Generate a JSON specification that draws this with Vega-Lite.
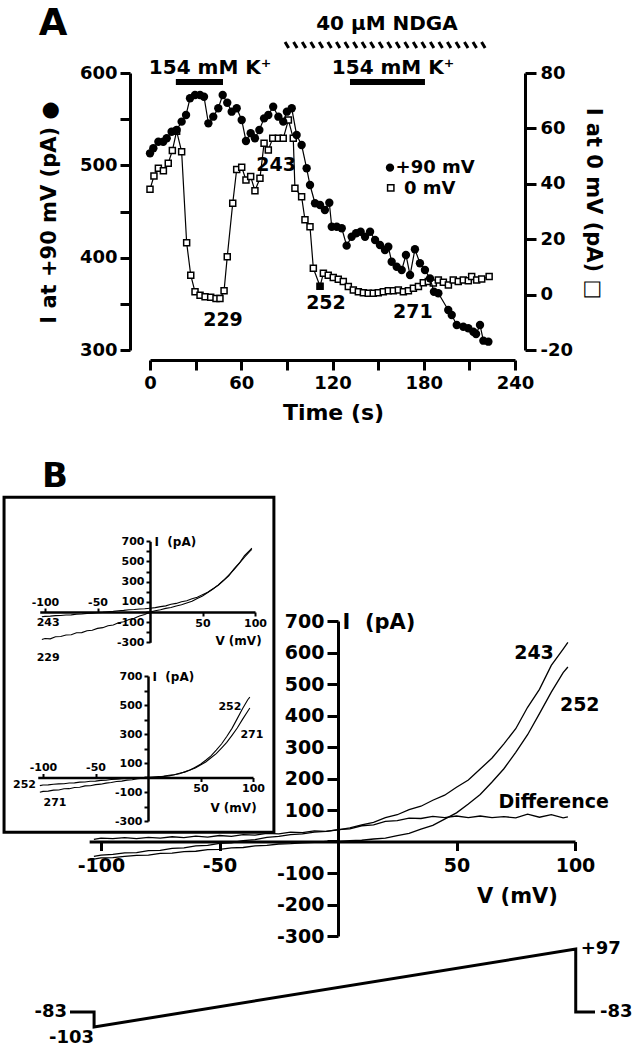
{
"$schema":"https://vega.github.io/schema/vega-lite/v6.json",
"width":642,"height":1049,"autosize":"none","padding":0,"background":"white",
"config":{"view":{"stroke":null},
 "axis":{"grid":false,"labelFont":"DejaVu Sans","titleFont":"DejaVu Sans","labelFontWeight":"bold","titleFontWeight":"bold","labelColor":"black","titleColor":"black","domainColor":"black","tickColor":"black","labelFlush":false,"labelOverlap":false,"labelBound":false},
 "text":{"font":"DejaVu Sans","fontWeight":"bold","color":"black"}},
"datasets":{
 "circ":[{"t":0,"i":513},{"t":2.2,"i":518.5},{"t":5.5,"i":525.6},{"t":8.7,"i":525.6},{"t":11,"i":529.3},{"t":14.2,"i":536.4},{"t":17.5,"i":538.3},{"t":20.8,"i":547.3},{"t":23.7,"i":554.5},{"t":26.3,"i":572.6},{"t":29.6,"i":576.2},{"t":32.9,"i":576.2},{"t":35.5,"i":574.3},{"t":38.4,"i":545.5},{"t":41.6,"i":552.7},{"t":44.9,"i":561.8},{"t":47.8,"i":576.2},{"t":50.8,"i":567.8},{"t":53.7,"i":558.1},{"t":57,"i":561.8},{"t":60.3,"i":549.1},{"t":63.1,"i":526.4},{"t":66.2,"i":534.7},{"t":69,"i":529.3},{"t":71.9,"i":538.3},{"t":75,"i":550.9},{"t":77.8,"i":554.5},{"t":81,"i":563.5},{"t":84.4,"i":552.7},{"t":87.6,"i":547.3},{"t":90,"i":558.1},{"t":93.2,"i":561.8},{"t":96.4,"i":532.9},{"t":99.7,"i":522},{"t":103,"i":496.8},{"t":105.2,"i":478.7},{"t":108.5,"i":458.9},{"t":111.8,"i":457},{"t":115,"i":451.6},{"t":117.9,"i":459.5},{"t":119.5,"i":433.5},{"t":122.8,"i":433.5},{"t":126.1,"i":431.8},{"t":129.3,"i":413},{"t":132.6,"i":422.7},{"t":135.5,"i":426.4},{"t":138.5,"i":428.1},{"t":141.4,"i":422.7},{"t":144.7,"i":428.1},{"t":148,"i":419.1},{"t":151.2,"i":413.7},{"t":154.5,"i":408.3},{"t":156.7,"i":411.9},{"t":158.9,"i":395.6},{"t":162.2,"i":390.2},{"t":165.5,"i":386.6},{"t":168.3,"i":402.9},{"t":171,"i":381.2},{"t":174.2,"i":409.1},{"t":177.5,"i":393.9},{"t":180.8,"i":386.6},{"t":184.1,"i":377.6},{"t":186.7,"i":363.1},{"t":189.6,"i":361.4},{"t":196.1,"i":343.3},{"t":198.4,"i":337.9},{"t":201.7,"i":327.1},{"t":206,"i":325.2},{"t":209.3,"i":323.5},{"t":212.6,"i":319.8},{"t":214.4,"i":317.3},{"t":217,"i":327.1},{"t":219.2,"i":310.1},{"t":222.5,"i":309}],
 "sq":[{"t":0,"i":38,"f":0},{"t":2.6,"i":42.8,"f":0},{"t":5.5,"i":45.6,"f":0},{"t":8.8,"i":44.7,"f":0},{"t":12,"i":47.4,"f":0},{"t":14.7,"i":52,"f":0},{"t":17.5,"i":59,"f":0},{"t":20.8,"i":51.6,"f":0},{"t":24.1,"i":18.7,"f":0},{"t":26.8,"i":7,"f":0},{"t":29.6,"i":1,"f":0},{"t":32.9,"i":-0.2,"f":0},{"t":36.2,"i":-0.8,"f":0},{"t":39.9,"i":-1,"f":0},{"t":43.4,"i":-1.4,"f":0},{"t":46,"i":-1.4,"f":0},{"t":48.7,"i":1.4,"f":0},{"t":50.8,"i":13.7,"f":0},{"t":54.4,"i":33,"f":0},{"t":57,"i":45.2,"f":0},{"t":60.3,"i":46,"f":0},{"t":63.1,"i":41.4,"f":0},{"t":66.2,"i":42.6,"f":0},{"t":69,"i":37.5,"f":0},{"t":72.3,"i":42,"f":0},{"t":75,"i":54.6,"f":0},{"t":77.8,"i":52.2,"f":0},{"t":80.7,"i":56.4,"f":0},{"t":84.4,"i":56.4,"f":0},{"t":87.6,"i":56.4,"f":0},{"t":91,"i":63,"f":0},{"t":94.2,"i":56.4,"f":0},{"t":95.3,"i":38.4,"f":0},{"t":99.7,"i":35.3,"f":0},{"t":101.9,"i":27,"f":0},{"t":105.2,"i":24.5,"f":0},{"t":107.4,"i":9.5,"f":0},{"t":111.8,"i":3,"f":1},{"t":114,"i":7.7,"f":0},{"t":117.2,"i":7,"f":0},{"t":120.5,"i":6.2,"f":0},{"t":123.8,"i":5.5,"f":0},{"t":127.1,"i":4.7,"f":0},{"t":130.4,"i":2.9,"f":0},{"t":133.7,"i":1.7,"f":0},{"t":137,"i":1,"f":0},{"t":140.3,"i":0.7,"f":0},{"t":143.5,"i":0.5,"f":0},{"t":146.8,"i":0.5,"f":0},{"t":150.1,"i":0.7,"f":0},{"t":153.4,"i":1,"f":0},{"t":156.7,"i":1.4,"f":0},{"t":160,"i":1.4,"f":0},{"t":163.3,"i":1.7,"f":0},{"t":166.6,"i":1,"f":0},{"t":169.9,"i":1.4,"f":0},{"t":173.2,"i":2.3,"f":0},{"t":176.5,"i":2.9,"f":0},{"t":179.7,"i":4.3,"f":0},{"t":183,"i":4.7,"f":0},{"t":186.3,"i":4.2,"f":0},{"t":189.6,"i":5.3,"f":0},{"t":192.9,"i":4.5,"f":0},{"t":196.2,"i":3.5,"f":0},{"t":199.4,"i":5.3,"f":0},{"t":202.7,"i":4.7,"f":0},{"t":206,"i":5.3,"f":0},{"t":209.3,"i":5,"f":0},{"t":211.5,"i":6.5,"f":0},{"t":214.8,"i":5.3,"f":0},{"t":218.1,"i":5.6,"f":0},{"t":223,"i":6.5,"f":0}],
 "iv":[{"V":-103,"a":-47,"b":-56,"d":7,"c":-272,"e":-102},{"V":-100,"a":-43,"b":-52,"d":11,"c":-262,"e":-96},{"V":-95,"a":-41,"b":-51,"d":9,"c":-266,"e":-94},{"V":-90,"a":-36,"b":-47,"d":12,"c":-245,"e":-87},{"V":-85,"a":-35,"b":-44,"d":9,"c":-243,"e":-86},{"V":-80,"a":-29,"b":-43,"d":13,"c":-228,"e":-78},{"V":-75,"a":-28,"b":-38,"d":11,"c":-226,"e":-77},{"V":-70,"a":-22,"b":-37,"d":15,"c":-206,"e":-69},{"V":-65,"a":-20,"b":-32,"d":12,"c":-204,"e":-67},{"V":-60,"a":-14,"b":-31,"d":17,"c":-186,"e":-58},{"V":-55,"a":-12,"b":-26,"d":14,"c":-181,"e":-57},{"V":-50,"a":-6,"b":-25,"d":19,"c":-162,"e":-49},{"V":-45,"a":-4,"b":-20,"d":16,"c":-155,"e":-46},{"V":-40,"a":3,"b":-19,"d":22,"c":-136,"e":-39},{"V":-35,"a":6,"b":-14,"d":20,"c":-128,"e":-35},{"V":-30,"a":13,"b":-12,"d":26,"c":-106,"e":-28},{"V":-25,"a":16,"b":-8,"d":24,"c":-97,"e":-25},{"V":-20,"a":22,"b":-7,"d":30,"c":-75,"e":-18},{"V":-15,"a":24,"b":-4,"d":28,"c":-62,"e":-15},{"V":-10,"a":30,"b":-3,"d":34,"c":-40,"e":-8},{"V":-5,"a":32,"b":0,"d":32,"c":-24,"e":-5},{"V":0,"a":37,"b":0,"d":38,"c":-1,"e":1},{"V":5,"a":43,"b":3,"d":40,"c":13,"e":2},{"V":10,"a":53,"b":4,"d":50,"c":23,"e":7},{"V":15,"a":61,"b":8,"d":53,"c":36,"e":9},{"V":20,"a":76,"b":11,"d":64,"c":45,"e":15},{"V":25,"a":85,"b":19,"d":66,"c":59,"e":19},{"V":30,"a":101,"b":26,"d":74,"c":71,"e":29},{"V":35,"a":112,"b":39,"d":73,"c":89,"e":37},{"V":40,"a":131,"b":51,"d":80,"c":107,"e":51},{"V":45,"a":147,"b":71,"d":76,"c":133,"e":65},{"V":50,"a":172,"b":91,"d":81,"c":159,"e":86},{"V":55,"a":195,"b":119,"d":76,"c":193,"e":107},{"V":60,"a":230,"b":149,"d":81,"c":227,"e":136},{"V":65,"a":265,"b":189,"d":76,"c":269,"e":165},{"V":70,"a":310,"b":231,"d":79,"c":314,"e":203},{"V":75,"a":358,"b":283,"d":75,"c":366,"e":242},{"V":80,"a":426,"b":339,"d":87,"c":419,"e":291},{"V":85,"a":483,"b":406,"d":77,"c":481,"e":341},{"V":90,"a":559,"b":474,"d":85,"c":544,"e":401},{"V":95,"a":611,"b":536,"d":75,"c":601,"e":457},{"V":97,"a":632,"b":554,"d":78,"c":620,"e":479}]
},
"resolve":{"scale":{"x":"independent","y":"independent"},"axis":{"x":"independent","y":"independent"}},
"layer":[
  {"data":{"name":"sq"},"mark":{"type":"line","color":"black","strokeWidth":1.2},
   "encoding":{"x":{"field":"t","type":"quantitative","scale":{"domain":[0,240],"range":[150,515],"nice":false,"zero":false},"axis":null},
    "y":{"field":"i","type":"quantitative","scale":{"domain":[-20,80],"range":[350,73],"nice":false,"zero":false},
     "axis":{"orient":"right","offset":-117,"values":[-20,0,20,40,60,80],"labelExpr":"replace(datum.label, '−', '-')","tickSize":11,"tickWidth":3,"domainWidth":3,"labelFontSize":18,"labelPadding":4,"title":"I at 0 mV (pA) □","titleFontSize":21,"titleAngle":90,"titleX":67,"titleY":203,"titleAlign":"center","titleBaseline":"middle"}}}},
  {"data":{"name":"sq"},"mark":{"type":"point","shape":"square","filled":true,"fill":"white","stroke":"black","strokeWidth":1.5,"size":36,"opacity":1},
   "encoding":{"x":{"field":"t","type":"quantitative","scale":{"domain":[0,240],"range":[150,515],"nice":false,"zero":false},"axis":null},
    "y":{"field":"i","type":"quantitative","scale":{"domain":[-20,80],"range":[350,73],"nice":false,"zero":false},"axis":null}}},
  {"data":{"name":"sq"},"transform":[{"filter":"datum.f == 1"}],"mark":{"type":"point","shape":"square","filled":true,"color":"black","size":45,"opacity":1},
   "encoding":{"x":{"field":"t","type":"quantitative","scale":{"domain":[0,240],"range":[150,515],"nice":false,"zero":false},"axis":null},
    "y":{"field":"i","type":"quantitative","scale":{"domain":[-20,80],"range":[350,73],"nice":false,"zero":false},"axis":null}}},
  {"data":{"values":[{"t":158.3,"i":38.5}]},"mark":{"type":"point","shape":"square","filled":true,"fill":"white","stroke":"black","strokeWidth":1.5,"size":40,"opacity":1},
   "encoding":{"x":{"field":"t","type":"quantitative","scale":{"domain":[0,240],"range":[150,515],"nice":false,"zero":false},"axis":null},
    "y":{"field":"i","type":"quantitative","scale":{"domain":[-20,80],"range":[350,73],"nice":false,"zero":false},"axis":null}}},
  {"data":{"values":[{"t":167,"i":38,"s":"0 mV"}]},"mark":{"type":"text","align":"left","baseline":"middle","fontSize":18},
   "encoding":{"x":{"field":"t","type":"quantitative","scale":{"domain":[0,240],"range":[150,515],"nice":false,"zero":false},"axis":null},
    "y":{"field":"i","type":"quantitative","scale":{"domain":[-20,80],"range":[350,73],"nice":false,"zero":false},"axis":null},"text":{"field":"s"}}},
  {"data":{"name":"circ"},"mark":{"type":"line","color":"black","strokeWidth":1.2},
   "encoding":{"x":{"field":"t","type":"quantitative","scale":{"domain":[0,240],"range":[150,515],"nice":false,"zero":false},
     "axis":{"orient":"bottom","offset":-689,"values":[0,30,60,90,120,150,180,210,240],"labelExpr":"datum.value % 60 == 0 ? datum.label : ''","tickSize":10,"tickWidth":3,"domainWidth":3,"labelFontSize":18,"labelPadding":4,"title":"Time (s)","titleFontSize":22,"titleX":333,"titleY":52,"titleAlign":"center","titleBaseline":"middle"}},
    "y":{"field":"i","type":"quantitative","scale":{"domain":[300,600],"range":[350,73],"nice":false,"zero":false},
     "axis":{"orient":"left","offset":-130,"values":[300,350,400,450,500,550,600],"labelExpr":"datum.value % 100 == 0 ? datum.label : ''","tickSize":10,"tickWidth":3,"domainWidth":3,"labelFontSize":18,"labelPadding":3,"title":"I at +90 mV (pA) ●","titleFontSize":21,"titleAngle":-90,"titleX":-81,"titleY":212,"titleAlign":"center","titleBaseline":"middle"}}}},
  {"data":{"name":"circ"},"mark":{"type":"point","shape":"circle","filled":true,"color":"black","size":70,"opacity":1},
   "encoding":{"x":{"field":"t","type":"quantitative","scale":{"domain":[0,240],"range":[150,515],"nice":false,"zero":false},"axis":null},
    "y":{"field":"i","type":"quantitative","scale":{"domain":[300,600],"range":[350,73],"nice":false,"zero":false},"axis":null}}},
  {"data":{"values":[{"t":157.8,"i":497.5}]},"mark":{"type":"point","shape":"circle","filled":true,"color":"black","size":70,"opacity":1},
   "encoding":{"x":{"field":"t","type":"quantitative","scale":{"domain":[0,240],"range":[150,515],"nice":false,"zero":false},"axis":null},
    "y":{"field":"i","type":"quantitative","scale":{"domain":[300,600],"range":[350,73],"nice":false,"zero":false},"axis":null}}},
  {"data":{"values":[{"t1":17,"t2":48,"i":590.3},{"t1":131.5,"t2":180.8,"i":590.3}]},"mark":{"type":"rule","color":"black","strokeWidth":6},
   "encoding":{"x":{"field":"t1","type":"quantitative","scale":{"domain":[0,240],"range":[150,515],"nice":false,"zero":false},"axis":null},"x2":{"field":"t2"},
    "y":{"field":"i","type":"quantitative","scale":{"domain":[300,600],"range":[350,73],"nice":false,"zero":false},"axis":null}}},
  {"data":{"values":[{"t":156.2,"i":630.3}]},"mark":{"type":"point","filled":false,"stroke":"black","strokeWidth":3,"opacity":1,"size":42025,
    "shape":"M-1,-0.03L-0.965,0.03M-0.917,-0.03L-0.882,0.03M-0.833,-0.03L-0.798,0.03M-0.75,-0.03L-0.715,0.03M-0.667,-0.03L-0.632,0.03M-0.583,-0.03L-0.548,0.03M-0.5,-0.03L-0.465,0.03M-0.417,-0.03L-0.382,0.03M-0.333,-0.03L-0.298,0.03M-0.25,-0.03L-0.215,0.03M-0.167,-0.03L-0.132,0.03M-0.083,-0.03L-0.048,0.03M0,-0.03L0.035,0.03M0.083,-0.03L0.118,0.03M0.167,-0.03L0.202,0.03M0.25,-0.03L0.285,0.03M0.333,-0.03L0.368,0.03M0.417,-0.03L0.452,0.03M0.5,-0.03L0.535,0.03M0.583,-0.03L0.618,0.03M0.667,-0.03L0.702,0.03M0.75,-0.03L0.785,0.03M0.833,-0.03L0.868,0.03M0.917,-0.03L0.952,0.03"},
   "encoding":{"x":{"field":"t","type":"quantitative","scale":{"domain":[0,240],"range":[150,515],"nice":false,"zero":false},"axis":null},
    "y":{"field":"i","type":"quantitative","scale":{"domain":[300,600],"range":[350,73],"nice":false,"zero":false},"axis":null}}},
  {"data":{"values":[{"t":-63.8,"i":653,"s":"A"}]},"mark":{"type":"text","align":"center","baseline":"middle","fontSize":37},
   "encoding":{"x":{"field":"t","type":"quantitative","scale":{"domain":[0,240],"range":[150,515],"nice":false,"zero":false},"axis":null},
    "y":{"field":"i","type":"quantitative","scale":{"domain":[300,600],"range":[350,73],"nice":false,"zero":false},"axis":null},"text":{"field":"s"}}},
  {"data":{"values":[{"t":155.8,"i":653,"s":"40 µM NDGA"},{"t":39.5,"i":605.4,"s":"154 mM K⁺"},{"t":159.8,"i":605.4,"s":"154 mM K⁺"}]},"mark":{"type":"text","align":"center","baseline":"middle","fontSize":20},
   "encoding":{"x":{"field":"t","type":"quantitative","scale":{"domain":[0,240],"range":[150,515],"nice":false,"zero":false},"axis":null},
    "y":{"field":"i","type":"quantitative","scale":{"domain":[300,600],"range":[350,73],"nice":false,"zero":false},"axis":null},"text":{"field":"s"}}},
  {"data":{"values":[{"t":48,"i":332.4,"s":"229"},{"t":82.9,"i":500.3,"s":"243"},{"t":115.7,"i":350.8,"s":"252"},{"t":172.9,"i":341,"s":"271"}]},"mark":{"type":"text","align":"center","baseline":"middle","fontSize":19},
   "encoding":{"x":{"field":"t","type":"quantitative","scale":{"domain":[0,240],"range":[150,515],"nice":false,"zero":false},"axis":null},
    "y":{"field":"i","type":"quantitative","scale":{"domain":[300,600],"range":[350,73],"nice":false,"zero":false},"axis":null},"text":{"field":"s"}}},
  {"data":{"values":[{"t":161.5,"i":497,"s":"+90 mV"}]},"mark":{"type":"text","align":"left","baseline":"middle","fontSize":18},
   "encoding":{"x":{"field":"t","type":"quantitative","scale":{"domain":[0,240],"range":[150,515],"nice":false,"zero":false},"axis":null},
    "y":{"field":"i","type":"quantitative","scale":{"domain":[300,600],"range":[350,73],"nice":false,"zero":false},"axis":null},"text":{"field":"s"}}},
  {"data":{"name":"iv"},"mark":{"type":"line","color":"black","strokeWidth":1.3},
   "encoding":{"x":{"field":"V","type":"quantitative","scale":{"domain":[-105,100],"range":[89.15,575],"nice":false,"zero":false},
     "axis":{"orient":"bottom","offset":-207.5,"values":[-100,-50,0,50,100],"labelExpr":"datum.value == 0 ? '' : replace(datum.label, '−', '-')","tickSize":9,"tickWidth":3,"domainWidth":3,"labelFontSize":19,"labelPadding":6,"title":"V (mV)","titleFontSize":21,"titleX":517,"titleY":55,"titleAlign":"center","titleBaseline":"middle"}},
    "y":{"field":"a","type":"quantitative","scale":{"domain":[-300,700],"range":[936,621],"nice":false,"zero":false},
     "axis":{"orient":"left","offset":-338,"values":[-300,-200,-100,0,100,200,300,400,500,600,700],"labelExpr":"datum.value == 0 ? '' : replace(datum.label, '−', '-')","tickSize":11,"tickWidth":3,"domainWidth":3,"labelFontSize":19,"labelPadding":3,"title":"I\u00a0\u00a0(pA)","titleFontSize":21,"titleAngle":0,"titleX":4,"titleY":622,"titleAlign":"left","titleBaseline":"middle"}}}},
  {"data":{"name":"iv"},"mark":{"type":"line","color":"black","strokeWidth":1.3},
   "encoding":{"x":{"field":"V","type":"quantitative","scale":{"domain":[-105,100],"range":[89.15,575],"nice":false,"zero":false},"axis":null},
    "y":{"field":"b","type":"quantitative","scale":{"domain":[-300,700],"range":[936,621],"nice":false,"zero":false},"axis":null}}},
  {"data":{"name":"iv"},"mark":{"type":"line","color":"black","strokeWidth":1.3},
   "encoding":{"x":{"field":"V","type":"quantitative","scale":{"domain":[-105,100],"range":[89.15,575],"nice":false,"zero":false},"axis":null},
    "y":{"field":"d","type":"quantitative","scale":{"domain":[-300,700],"range":[936,621],"nice":false,"zero":false},"axis":null}}},
  {"data":{"values":[{"V":82.7,"I":598,"s":"243"},{"V":102,"I":433,"s":"252"},{"V":91,"I":125,"s":"Difference"}]},"mark":{"type":"text","align":"center","baseline":"middle","fontSize":19},
   "encoding":{"x":{"field":"V","type":"quantitative","scale":{"domain":[-105,100],"range":[89.15,575],"nice":false,"zero":false},"axis":null},
    "y":{"field":"I","type":"quantitative","scale":{"domain":[-300,700],"range":[936,621],"nice":false,"zero":false},"axis":null},"text":{"field":"s"}}},
  {"data":{"values":[{"V":-119.4,"I":1157,"s":"B"}]},"mark":{"type":"text","align":"center","baseline":"middle","fontSize":34},
   "encoding":{"x":{"field":"V","type":"quantitative","scale":{"domain":[-105,100],"range":[89.15,575],"nice":false,"zero":false},"axis":null},
    "y":{"field":"I","type":"quantitative","scale":{"domain":[-300,700],"range":[936,621],"nice":false,"zero":false},"axis":null},"text":{"field":"s"}}},
  {"data":{"values":[{"x1":-139,"x2":118,"y1":1135,"y2":-2180}]},"mark":{"type":"rect","fillOpacity":0,"stroke":"black","strokeWidth":3},
   "encoding":{"x":{"field":"x1","type":"quantitative","scale":{"domain":[-105,100],"range":[39.75,255],"nice":false,"zero":false},"axis":null},"x2":{"field":"x2"},
    "y":{"field":"y1","type":"quantitative","scale":{"domain":[-300,700],"range":[642.3,541.3],"nice":false,"zero":false},"axis":null},"y2":{"field":"y2"}}},
  {"data":{"name":"iv"},"mark":{"type":"line","color":"black","strokeWidth":1.1},
   "encoding":{"x":{"field":"V","type":"quantitative","scale":{"domain":[-105,100],"range":[39.75,255],"nice":false,"zero":false},
     "axis":{"orient":"bottom","offset":-437,"values":[50,100],"tickSize":4,"tickWidth":2,"domainWidth":2.5,"labelFontSize":11,"labelPadding":1,"title":"V (mV)","titleFontSize":12,"titleX":238,"titleY":28,"titleAlign":"center","titleBaseline":"middle"}},
    "y":{"field":"a","type":"quantitative","scale":{"domain":[-300,700],"range":[642.3,541.3],"nice":false,"zero":false},
     "axis":{"orient":"left","offset":-150,"values":[-300,-200,-100,0,100,200,300,400,500,600,700],"labelExpr":"datum.value % 200 != 0 ? replace(datum.label, '−', '-') : ''","tickSize":4,"tickWidth":2,"domainWidth":2.5,"labelFontSize":11,"labelPadding":2,"title":"I\u00a0\u00a0(pA)","titleFontSize":12,"titleAngle":0,"titleX":4,"titleY":541,"titleAlign":"left","titleBaseline":"middle"}}}},
  {"data":{"values":[{"V":-97,"I":-112,"s":"243"},{"V":-97,"I":-458,"s":"229"}]},"mark":{"type":"text","align":"center","baseline":"middle","fontSize":11},
   "encoding":{"x":{"field":"V","type":"quantitative","scale":{"domain":[-105,100],"range":[39.75,255],"nice":false,"zero":false},"axis":null},
    "y":{"field":"I","type":"quantitative","scale":{"domain":[-300,700],"range":[642.3,541.3],"nice":false,"zero":false},"axis":null},"text":{"field":"s"}}},
  {"data":{"name":"iv"},"mark":{"type":"line","color":"black","strokeWidth":1.1},
   "encoding":{"x":{"field":"V","type":"quantitative","scale":{"domain":[-105,100],"range":[39.75,255],"nice":false,"zero":false},
     "axis":{"orient":"top","offset":-612,"values":[-100,-50],"labelExpr":"replace(datum.label, '−', '-')","tickSize":4,"tickWidth":2,"domain":false,"labelFontSize":11,"labelPadding":1,"title":null}},
    "y":{"field":"c","type":"quantitative","scale":{"domain":[-300,700],"range":[642.3,541.3],"nice":false,"zero":false},"axis":null}}},
  {"data":{"name":"iv"},"mark":{"type":"line","color":"black","strokeWidth":1.1},
   "encoding":{"x":{"field":"V","type":"quantitative","scale":{"domain":[-105,100],"range":[37.75,253],"nice":false,"zero":false},
     "axis":{"orient":"bottom","offset":-271.5,"values":[50,100],"tickSize":4,"tickWidth":2,"domainWidth":2.5,"labelFontSize":11,"labelPadding":1,"title":"V (mV)","titleFontSize":12,"titleX":233,"titleY":30,"titleAlign":"center","titleBaseline":"middle"}},
    "y":{"field":"b","type":"quantitative","scale":{"domain":[-300,700],"range":[821,676],"nice":false,"zero":false},
     "axis":{"orient":"left","offset":-148,"values":[-300,-200,-100,0,100,200,300,400,500,600,700],"labelExpr":"datum.value % 200 != 0 ? replace(datum.label, '−', '-') : ''","tickSize":4,"tickWidth":2,"domainWidth":2.5,"labelFontSize":11,"labelPadding":2,"title":"I\u00a0\u00a0(pA)","titleFontSize":12,"titleAngle":0,"titleX":4,"titleY":676,"titleAlign":"left","titleBaseline":"middle"}}}},
  {"data":{"values":[{"V":78,"I":485,"s":"252"},{"V":99,"I":292,"s":"271"},{"V":-117.6,"I":-53,"s":"252"},{"V":-88.6,"I":-177,"s":"271"}]},"mark":{"type":"text","align":"center","baseline":"middle","fontSize":11},
   "encoding":{"x":{"field":"V","type":"quantitative","scale":{"domain":[-105,100],"range":[37.75,253],"nice":false,"zero":false},"axis":null},
    "y":{"field":"I","type":"quantitative","scale":{"domain":[-300,700],"range":[821,676],"nice":false,"zero":false},"axis":null},"text":{"field":"s"}}},
  {"data":{"name":"iv"},"mark":{"type":"line","color":"black","strokeWidth":1.1},
   "encoding":{"x":{"field":"V","type":"quantitative","scale":{"domain":[-105,100],"range":[37.75,253],"nice":false,"zero":false},
     "axis":{"orient":"top","offset":-777.5,"values":[-100,-50],"labelExpr":"replace(datum.label, '−', '-')","tickSize":4,"tickWidth":2,"domain":false,"labelFontSize":11,"labelPadding":1,"title":null}},
    "y":{"field":"e","type":"quantitative","scale":{"domain":[-300,700],"range":[821,676],"nice":false,"zero":false},"axis":null}}},
  {"data":{"values":[{"k":0,"t":0,"v":-83},{"k":1,"t":25,"v":-83},{"k":2,"t":25,"v":-103},{"k":3,"t":525,"v":97},{"k":4,"t":525,"v":-83},{"k":5,"t":545,"v":-83}]},"mark":{"type":"line","color":"black","strokeWidth":3},
   "encoding":{"x":{"field":"t","type":"quantitative","scale":{"domain":[0,545],"range":[70,595],"nice":false,"zero":false},"axis":null},
    "y":{"field":"v","type":"quantitative","scale":{"domain":[-103,-83,97],"range":[1027,1012,949],"nice":false,"zero":false},"axis":null},
    "order":{"field":"k","type":"quantitative"}}},
  {"data":{"values":[{"t":0,"v":-83,"s":"-83"}]},"mark":{"type":"text","align":"right","baseline":"middle","dx":-3,"fontSize":18},
   "encoding":{"x":{"field":"t","type":"quantitative","scale":{"domain":[0,545],"range":[70,595],"nice":false,"zero":false},"axis":null},
    "y":{"field":"v","type":"quantitative","scale":{"domain":[-103,-83,97],"range":[1027,1012,949],"nice":false,"zero":false},"axis":null},"text":{"field":"s"}}},
  {"data":{"values":[{"t":25,"v":-103,"s":"-103"}]},"mark":{"type":"text","align":"right","baseline":"top","dy":2,"fontSize":18},
   "encoding":{"x":{"field":"t","type":"quantitative","scale":{"domain":[0,545],"range":[70,595],"nice":false,"zero":false},"axis":null},
    "y":{"field":"v","type":"quantitative","scale":{"domain":[-103,-83,97],"range":[1027,1012,949],"nice":false,"zero":false},"axis":null},"text":{"field":"s"}}},
  {"data":{"values":[{"t":525,"v":97,"s":"+97"},{"t":545,"v":-83,"s":"-83"}]},"mark":{"type":"text","align":"left","baseline":"middle","dx":5,"fontSize":18},
   "encoding":{"x":{"field":"t","type":"quantitative","scale":{"domain":[0,545],"range":[70,595],"nice":false,"zero":false},"axis":null},
    "y":{"field":"v","type":"quantitative","scale":{"domain":[-103,-83,97],"range":[1027,1012,949],"nice":false,"zero":false},"axis":null},"text":{"field":"s"}}}
]
}
